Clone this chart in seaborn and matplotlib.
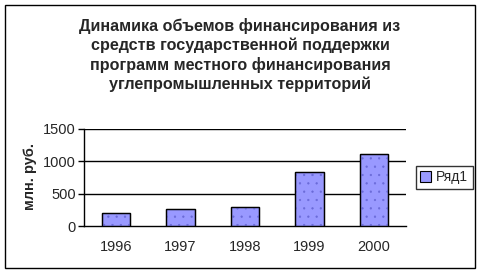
import matplotlib
matplotlib.use("Agg")
import matplotlib.pyplot as plt
import seaborn as sns
import pandas as pd
from matplotlib.patches import Rectangle, Patch

years = ["1996", "1997", "1998", "1999", "2000"]
values = [200, 260, 290, 830, 1110]
series_name = "Ряд1"
title = "Динамика объемов финансирования из\nсредств государственной поддержки\nпрограмм местного финансирования\nуглепромышленных территорий"
ylabel = "млн. руб."
yticks = [0, 500, 1000, 1500]

sns.set_style("white")
plt.rcParams['font.family'] = ['Liberation Sans', 'DejaVu Sans']
plt.rcParams['hatch.linewidth'] = 0.4

W, H = 482, 274
fig = plt.figure(figsize=(W / 100, H / 100), dpi=100)
fig.patch.set_facecolor("white")

# outer frame
fig.add_artist(Rectangle((5 / W, 1 - 268 / H), 470 / W, 263 / H, transform=fig.transFigure,
                         fill=False, edgecolor="black", linewidth=1.0))

ax = fig.add_axes([84 / W, 1 - 226 / H, (406 - 84) / W, (226 - 129) / H])
df = pd.DataFrame({"year": years, "value": values})
sns.barplot(data=df, x="year", y="value", ax=ax, color="#9999FF", width=0.44,
            edgecolor="black", linewidth=0.9, saturation=1)
bars = list(ax.patches)
for p in bars:
    p.set_zorder(3)
    ov = Rectangle(p.get_xy(), p.get_width(), p.get_height(), fill=False,
                   hatch="..", edgecolor="#6a6ad8", linewidth=0, zorder=3.5)
    ax.add_patch(ov)
    edge = Rectangle(p.get_xy(), p.get_width(), p.get_height(), fill=False,
                     edgecolor="black", linewidth=0.9, zorder=4)
    ax.add_patch(edge)

ax.set_ylim(0, 1500)
ax.set_xlim(-0.5, len(years) - 0.5)
ax.set_yticks(yticks)
ax.set_yticklabels([str(t) for t in yticks], fontsize=10.5)
ax.set_xticks(range(len(years)))
ax.set_xticklabels(years, fontsize=10.5)
ax.set_xticks([i - 0.5 for i in range(len(years) + 1)], minor=True)
ax.tick_params(axis="x", which="major", length=0, pad=10)
ax.tick_params(axis="x", which="minor", length=4, width=1, direction="out", color="black")
ax.tick_params(axis="y", length=4, width=1, direction="out", color="black", pad=2, left=True)
for y in yticks[1:]:
    ax.axhline(y, color="black", linewidth=1.0, zorder=1)
for s in ["top", "right"]:
    ax.spines[s].set_visible(False)
for s in ["left", "bottom"]:
    ax.spines[s].set_color("black")
    ax.spines[s].set_linewidth(1.0)
ax.set_xlabel("")
ax.set_ylabel("")
ax.set_facecolor("white")

fig.text(30 / W, 1 - 176 / H, ylabel, rotation=90, ha="center", va="center",
         fontsize=10.5, fontweight="bold")
fig.text(240 / W, 1 - 55 / H, title, ha="center", va="center", fontsize=11.6,
         fontweight="bold", linespacing=1.3)

handle = Patch(facecolor="#9999FF", edgecolor="black", linewidth=0.8)
leg = fig.legend([handle], [series_name], loc="center", bbox_to_anchor=(444 / W, 1 - 177.5 / H),
                 fontsize=10, frameon=True, fancybox=False, edgecolor="black",
                 handlelength=0.8, handleheight=0.8, handletextpad=0.3, borderpad=0.35,
                 borderaxespad=0)
leg.get_frame().set_linewidth(1.0)

fig.savefig("out.png", dpi=100)
